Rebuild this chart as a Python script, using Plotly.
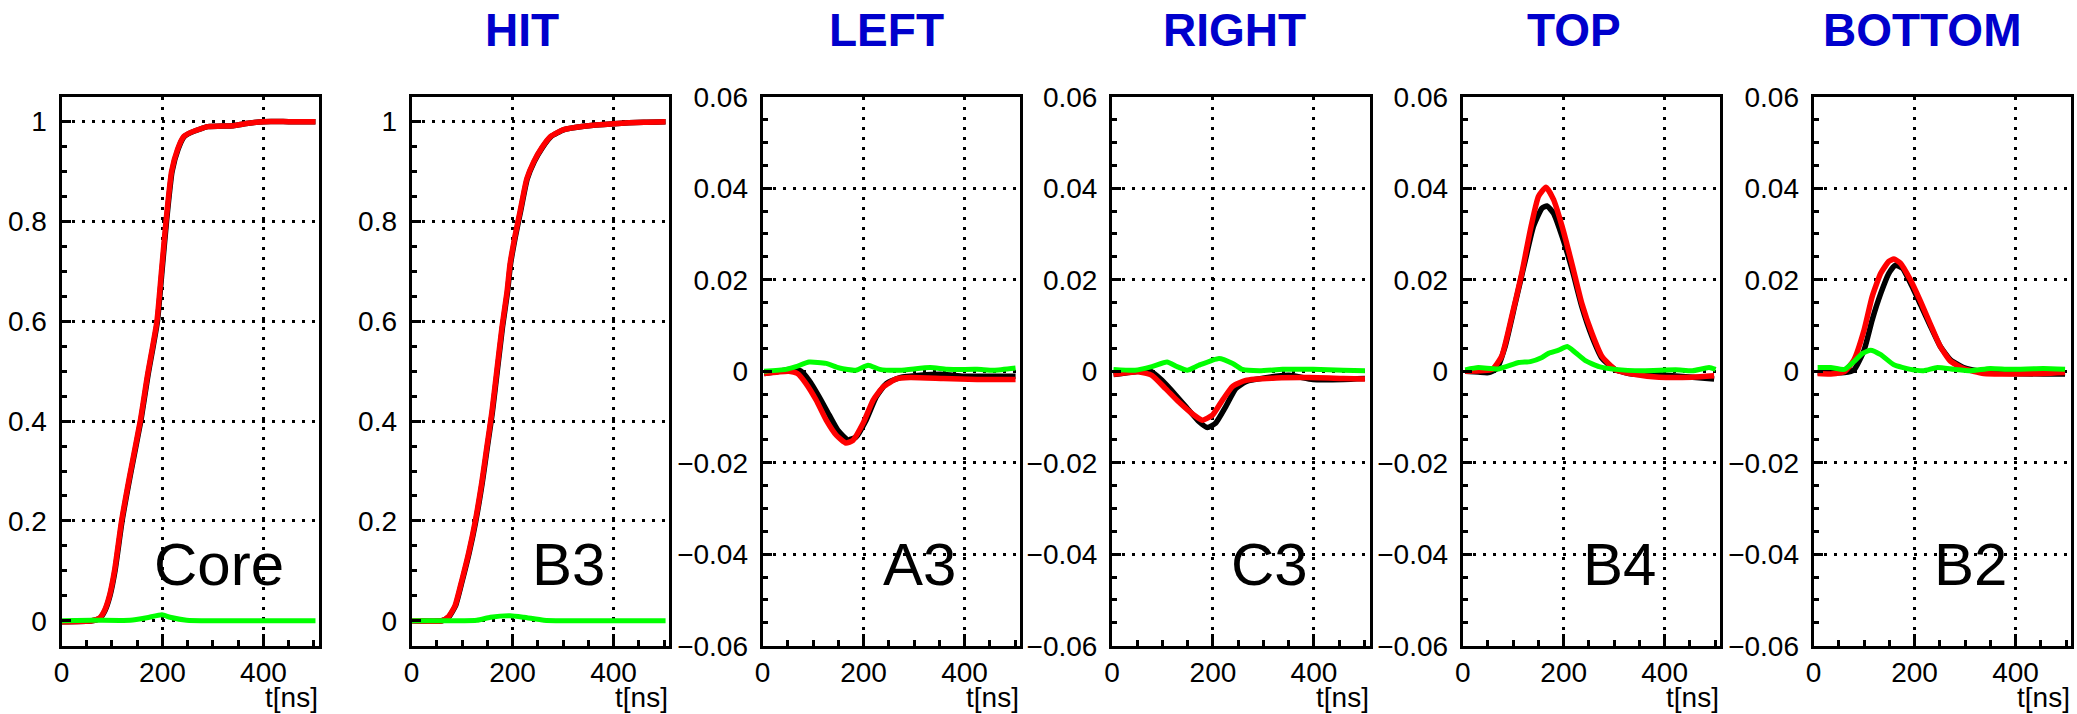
import plotly.graph_objects as go

# ---------------- data ----------------
panel_titles = ["", "HIT", "LEFT", "RIGHT", "TOP", "BOTTOM"]
pad_labels = ["Core", "B3", "A3", "C3", "B4", "B2"]

# Core
core_black_t = [0, 60, 76, 86, 96, 106, 120, 136, 157, 171, 190, 199, 208, 219, 231, 243, 256, 290, 340, 370, 400, 450, 503]
core_black = [-0.002, 0, 0.005, 0.02, 0.05, 0.1, 0.2, 0.29, 0.4, 0.49, 0.6, 0.7, 0.8, 0.9, 0.945, 0.97, 0.978, 0.99, 0.992, 0.997, 1.0, 1.0, 1.0]
core_red_t = [0, 60, 75, 85, 95, 105, 119, 135, 156, 170, 189, 198, 207, 218, 230, 242, 255, 290, 340, 370, 400, 450, 503]
core_red = [-0.002, 0, 0.005, 0.02, 0.05, 0.1, 0.2, 0.29, 0.4, 0.49, 0.6, 0.7, 0.8, 0.9, 0.945, 0.97, 0.978, 0.99, 0.992, 0.997, 1.0, 1.0, 1.0]
core_green_t = [0, 60, 136, 169, 199, 215, 248, 300, 400, 503]
core_green = [0, 0.001, 0.001, 0.006, 0.012, 0.007, 0.001, 0, 0, 0]

# B3
b3_black_t = [0, 60, 74, 87, 100, 114, 127, 140, 150, 160, 170, 180, 190, 196, 206, 216, 229, 243, 259, 276, 302, 341, 401, 460, 503]
b3_black = [0, 0, 0.008, 0.03, 0.079, 0.136, 0.199, 0.277, 0.348, 0.418, 0.503, 0.588, 0.659, 0.715, 0.772, 0.821, 0.885, 0.92, 0.948, 0.97, 0.984, 0.991, 0.996, 0.999, 1.0]
b3_red_t = [0, 60, 73, 86, 99, 113, 126, 139, 149, 159, 169, 179, 189, 195, 205, 215, 228, 242, 258, 275, 301, 341, 401, 460, 503]
b3_red = [0, 0, 0.008, 0.03, 0.079, 0.136, 0.199, 0.277, 0.348, 0.418, 0.503, 0.588, 0.659, 0.715, 0.772, 0.821, 0.885, 0.92, 0.948, 0.97, 0.984, 0.991, 0.996, 0.999, 1.0]
b3_green_t = [0, 129, 156, 195, 222, 262, 300, 503]
b3_green = [0, 0.001, 0.007, 0.01, 0.007, 0.001, 0, 0]

# A3
a3_black_t = [3, 33, 59, 76, 92, 112, 132, 149, 169, 185, 205, 225, 245, 272, 312, 358, 398, 458, 501]
a3_black = [-0.0005, 0, 0.0004, 0, -0.002, -0.0056, -0.0096, -0.0129, -0.015, -0.0144, -0.0107, -0.0056, -0.0027, -0.0014, -0.0009, -0.0007, -0.0011, -0.0011, -0.0011]
a3_red_t = [3, 52, 69, 86, 106, 126, 146, 165, 179, 199, 219, 239, 265, 292, 358, 425, 501]
a3_red = [-0.0005, 0, -0.0005, -0.0027, -0.0063, -0.0107, -0.014, -0.0157, -0.0151, -0.0114, -0.0063, -0.0034, -0.0017, -0.0014, -0.0016, -0.0018, -0.0018]
a3_green_t = [3, 46, 66, 92, 126, 152, 185, 209, 232, 272, 332, 365, 425, 458, 501]
a3_green = [0, 0.0004, 0.001, 0.002, 0.0017, 0.0007, 0.0002, 0.0013, 0.0004, 0.0002, 0.0008, 0.0004, 0.0004, 0.0002, 0.0007]

# C3
c3_black_t = [3, 46, 76, 99, 126, 152, 172, 189, 205, 225, 245, 265, 305, 351, 398, 458, 501]
c3_black = [-0.0007, -0.0001, 0, -0.002, -0.0052, -0.0085, -0.011, -0.0123, -0.0114, -0.0078, -0.0038, -0.0023, -0.0014, -0.0009, -0.0018, -0.0018, -0.0016]
c3_red_t = [3, 52, 79, 106, 132, 159, 179, 199, 219, 239, 265, 325, 391, 458, 501]
c3_red = [-0.0007, -0.0001, -0.0009, -0.0038, -0.0067, -0.0093, -0.0107, -0.0096, -0.0063, -0.0033, -0.002, -0.0015, -0.0014, -0.0016, -0.0017]
c3_green_t = [3, 46, 79, 109, 129, 149, 172, 212, 239, 258, 292, 338, 398, 458, 501]
c3_green = [0.0004, 0.0002, 0.001, 0.002, 0.001, 0.0002, 0.0013, 0.0028, 0.0017, 0.0004, 0.0001, 0.0004, 0.0004, 0.0002, 0.0001]

# B4
b4_black_t = [5, 31, 51, 68, 84, 104, 124, 140, 157, 167, 180, 197, 217, 236, 256, 276, 303, 336, 389, 455, 498]
b4_black = [0, -0.0002, -0.0003, 0.0006, 0.0054, 0.0148, 0.0243, 0.0316, 0.0356, 0.0361, 0.0345, 0.0294, 0.0221, 0.0141, 0.0076, 0.0028, 0.0003, -0.0006, -0.0008, -0.0013, -0.0017]
b4_red_t = [5, 58, 77, 97, 117, 134, 150, 165, 180, 197, 217, 236, 256, 276, 303, 336, 389, 455, 498]
b4_red = [0, 0.0004, 0.0032, 0.0119, 0.0214, 0.0309, 0.0382, 0.0402, 0.0375, 0.0316, 0.0232, 0.0148, 0.0083, 0.0032, 0.0003, -0.0006, -0.0013, -0.0013, -0.001]
b4_green_t = [5, 31, 71, 111, 134, 157, 170, 190, 207, 223, 243, 270, 303, 356, 422, 455, 488, 501]
b4_green = [0.0003, 0.0008, 0.0005, 0.0019, 0.0021, 0.003, 0.0039, 0.0046, 0.0054, 0.0041, 0.0023, 0.001, 0.0004, 0.0001, 0.0003, 0.0001, 0.0008, 0.0004]

# B2
b2_black_t = [8, 61, 80, 100, 116, 133, 149, 162, 176, 192, 212, 232, 251, 271, 297, 337, 389, 455, 498]
b2_black = [-0.0003, -0.0003, 0.0003, 0.0046, 0.0112, 0.017, 0.0214, 0.0232, 0.0225, 0.0192, 0.0145, 0.0097, 0.0054, 0.0025, 0.0008, -0.0001, -0.0005, -0.0006, -0.0006]
b2_red_t = [8, 34, 61, 80, 100, 116, 133, 149, 159, 172, 192, 212, 232, 251, 271, 297, 337, 389, 455, 498]
b2_red = [-0.0005, -0.0006, -0.0001, 0.0025, 0.009, 0.0163, 0.0214, 0.024, 0.0245, 0.0236, 0.0199, 0.0152, 0.0101, 0.0054, 0.0022, 0.0006, -0.0005, -0.0006, -0.0005, -0.0003]
b2_green_t = [8, 34, 61, 80, 97, 113, 133, 159, 192, 218, 245, 278, 311, 350, 389, 455, 498]
b2_green = [0.0008, 0.0008, 0.0004, 0.0021, 0.0039, 0.0046, 0.0036, 0.0014, 0.0004, 0.0001, 0.0008, 0.0004, 0.0001, 0.0006, 0.0004, 0.0006, 0.0004]

x_tick_vals = [0, 200, 400]
x_title = "t[ns]"

panels = [
    (core_black_t, core_black, core_red_t, core_red, core_green_t, core_green),
    (b3_black_t, b3_black, b3_red_t, b3_red, b3_green_t, b3_green),
    (a3_black_t, a3_black, a3_red_t, a3_red, a3_green_t, a3_green),
    (c3_black_t, c3_black, c3_red_t, c3_red, c3_green_t, c3_green),
    (b4_black_t, b4_black, b4_red_t, b4_red, b4_green_t, b4_green),
    (b2_black_t, b2_black, b2_red_t, b2_red, b2_green_t, b2_green),
]

# ---------------- layout geometry (pixels) ----------------
W, H = 2077, 714
frame_left = [61.5, 411.6, 762.6, 1112.0, 1462.7, 1813.6]
frame_w = 257.5
frame_top, frame_bottom = 96.7, 645.7
title_x = [None, 522, 886, 1234, 1574, 1922]
title_y = 30

FONT = "Liberation Sans, Arial, Helvetica, sans-serif"

fig = go.Figure()
layout = dict(
    width=W, height=H, autosize=False,
    margin=dict(l=0, r=0, t=0, b=0, pad=0, autoexpand=False),
    paper_bgcolor="white", plot_bgcolor="white",
    showlegend=False,
    annotations=[],
)

colors = [("black", 5.5), ("#ff0000", 5.5), ("#00ff00", 5)]

for i, series in enumerate(panels):
    n = "" if i == 0 else str(i + 1)
    xa, ya = "x" + n, "y" + n
    for k, (col, lw) in enumerate(colors):
        t, v = series[2 * k], series[2 * k + 1]
        fig.add_trace(go.Scatter(
            x=t, y=v, mode="lines",
            line=dict(color=col, width=lw, shape="spline", smoothing=0.5),
            xaxis=xa, yaxis=ya, hoverinfo="skip",
        ))

    x0 = frame_left[i] / W
    x1 = (frame_left[i] + frame_w) / W
    y0 = (H - frame_bottom) / H
    y1 = (H - frame_top) / H

    big = i < 2
    common = dict(
        automargin=False,
        showline=True, linewidth=3, linecolor="black", mirror=True,
        showgrid=True, gridcolor="black", gridwidth=3, griddash="3px,7px",
        zeroline=False, ticks="inside", tickcolor="black", tickwidth=2.5,
        tickfont=dict(family=FONT, size=28, color="black"),
        layer="above traces",
    )
    layout["xaxis" + n] = dict(
        common, domain=[x0, x1], anchor=ya, range=[0, 510],
        tickmode="array", tickvals=x_tick_vals, ticklen=12,
        minor=dict(dtick=50, tick0=0, ticks="inside", ticklen=6, tickwidth=2.5,
                   tickcolor="black", showgrid=False),
        ticklabelstandoff=0,
    )
    layout["yaxis" + n] = dict(
        common, domain=[y0, y1], anchor=xa,
        range=[-0.05, 1.05] if big else [-0.06, 0.06],
        dtick=0.2 if big else 0.02, tick0=0, ticklen=9,
        minor=dict(dtick=0.05 if big else 0.005, tick0=0, ticks="inside", ticklen=5,
                   tickwidth=2.5, tickcolor="black", showgrid=False),
        ticklabelstandoff=6,
    )

    # axis title at the right end of the time axis
    layout["annotations"].append(dict(
        text=x_title, xref="paper", yref="paper",
        x=x1 + 1 / W, y=(H - 697) / H, xanchor="right", yanchor="middle",
        showarrow=False, font=dict(family=FONT, size=28, color="black"),
    ))
    # pad label inside the frame
    layout["annotations"].append(dict(
        text=pad_labels[i], xref="paper", yref="paper",
        x=(frame_left[i] + 157) / W, y=(H - 564) / H,
        xanchor="center", yanchor="middle",
        showarrow=False, font=dict(family=FONT, size=60, color="black"),
    ))
    if panel_titles[i]:
        layout["annotations"].append(dict(
            text="<b>%s</b>" % panel_titles[i], xref="paper", yref="paper",
            x=title_x[i] / W, y=(H - title_y) / H,
            xanchor="center", yanchor="middle",
            showarrow=False, font=dict(family=FONT, size=46, color="#0000cc"),
        ))

fig.update_layout(**layout)
fig.write_html("out.html")
